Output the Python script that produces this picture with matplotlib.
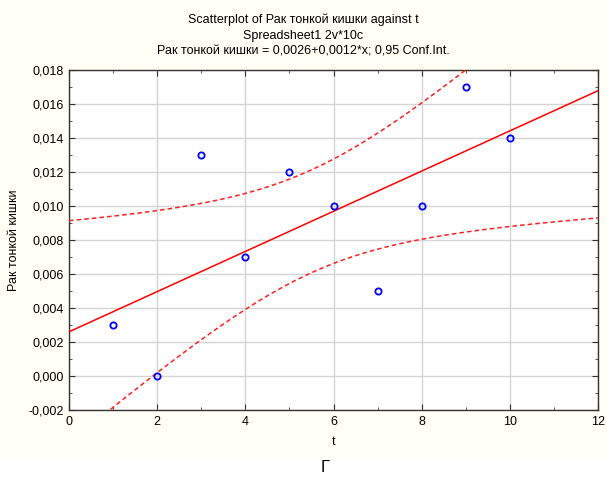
import numpy as np
import matplotlib
matplotlib.use("Agg")
import matplotlib.pyplot as plt
from matplotlib.ticker import MultipleLocator, FuncFormatter

t_vals = [1, 2, 3, 4, 5, 6, 7, 8, 9, 10]
y_vals = [0.003, 0.000, 0.013, 0.007, 0.012, 0.010, 0.005, 0.010, 0.017, 0.014]
x_ticks = [0, 2, 4, 6, 8, 10, 12]
y_ticks = [-0.002, 0.000, 0.002, 0.004, 0.006, 0.008, 0.010, 0.012, 0.014, 0.016, 0.018]
title_lines = ["Scatterplot of Рак тонкой кишки against t",
               "Spreadsheet1 2v*10c",
               "Рак тонкой кишки = 0,0026+0,0012*x; 0,95 Conf.Int."]
t_crit = 2.306  # t(0.975, 8)

plt.rcParams['font.family'] = ['Liberation Sans', 'DejaVu Sans']

x = np.array(t_vals, float)
y = np.array(y_vals, float)
n = len(x)
b, a = np.polyfit(x, y, 1)
resid = y - (a + b * x)
s = np.sqrt(np.sum(resid ** 2) / (n - 2))
xm = x.mean()
sxx = np.sum((x - xm) ** 2)
xx = np.linspace(0, 12, 300)
yy = a + b * xx
se = s * np.sqrt(1.0 / n + (xx - xm) ** 2 / sxx)

bg = '#fffff6'
fig = plt.figure(figsize=(6.07, 4.8), dpi=100, facecolor=bg)
# white strip at the bottom
fig.patches.append(plt.Rectangle((0, 0), 1, 22 / 480, transform=fig.transFigure,
                                 facecolor='white', edgecolor='none', zorder=0))
ax = fig.add_axes([69 / 607, 1 - 410 / 480, (598 - 69) / 607, (410 - 70) / 480])
ax.set_facecolor('white')

ax.plot(xx, yy, color='#ff0000', lw=1.1, zorder=3)
ax.plot(xx, yy + t_crit * se, color='#ff2020', lw=1.1, ls=(0, (3, 2)), zorder=3)
ax.plot(xx, yy - t_crit * se, color='#ff2020', lw=1.1, ls=(0, (3, 2)), zorder=3)
ax.plot(x, y, ls='none', marker='o', ms=4.5, mfc='none', mec='#0000ff', mew=1.3, zorder=4)

ax.set_xlim(0, 12)
ax.set_ylim(-0.002, 0.018)
ax.set_xticks(x_ticks)
ax.set_yticks(y_ticks)
ax.xaxis.set_minor_locator(MultipleLocator(1))
ax.yaxis.set_minor_locator(MultipleLocator(0.001))
ax.yaxis.set_major_formatter(FuncFormatter(lambda v, p: f"{v:.3f}".replace('.', ',').replace('-0,000', '0,000')))
ax.xaxis.set_major_formatter(FuncFormatter(lambda v, p: f"{v:.0f}"))
ax.grid(True, which='major', color='#d4d4d4', lw=1.0, zorder=0)
ax.tick_params(which='both', direction='in', top=True, right=True, labelsize=9, color='#333333')
ax.tick_params(which='major', length=4, pad=4)
ax.tick_params(which='minor', length=2.5)
for sp in ax.spines.values():
    sp.set_color('#333333')
    sp.set_linewidth(1.0)

ax.set_xlabel('t', fontsize=9, labelpad=6)
ax.set_ylabel('Рак тонкой кишки', fontsize=9, labelpad=6)

fig.text(0.5, 1 - 20 / 480, title_lines[0], ha='center', va='center', fontsize=9)
fig.text(0.5, 1 - 36 / 480, title_lines[1], ha='center', va='center', fontsize=9)
fig.text(0.5, 1 - 52 / 480, title_lines[2], ha='center', va='center', fontsize=9)
fig.text(325 / 607, 1 - 468 / 480, 'Г', ha='center', va='center', fontsize=12)

fig.savefig('out.png', dpi=100, facecolor=bg)
